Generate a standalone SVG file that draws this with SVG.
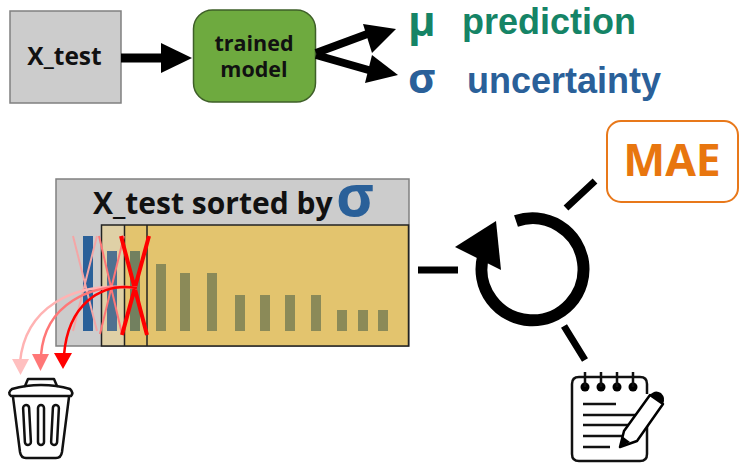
<svg xmlns="http://www.w3.org/2000/svg" width="749" height="470" viewBox="0 0 749 470">
<defs><style>
text{font-family:"Open Sans","Noto Sans",sans-serif;font-weight:700}
.blk{fill:#000;stroke:none}
.bar{fill:#2a6099}
.obar{fill:#8b8a58}
.ln{stroke:#000;fill:none}
</style></defs>
<rect width="749" height="470" fill="#fff"/>
<g id="x_test"><rect x="10" y="11" width="111" height="92" fill="#ccc" stroke="#808080" stroke-width="1.5"/><text x="64.500" y="65" font-size="24.500" text-anchor="middle" fill="#111">X_test</text></g>
<g id="trained_model"><rect x="193.500" y="10" width="122" height="92" rx="19" fill="#6eaa3f" stroke="#3e5f28" stroke-width="1.500"/><text x="254" y="51" font-size="21.500" text-anchor="middle" fill="#111">trained</text><text x="254" y="77" font-size="21.500" text-anchor="middle" fill="#111">model</text></g>
<g id="mu"><text x="408" y="36" font-size="42" fill="#158466" font-family="Liberation Sans">μ</text><text x="462" y="34" font-size="36" fill="#158466" style="font-family:'Liberation Sans';font-weight:700">prediction</text></g>
<g id="sigma"><text x="408" y="93" font-size="42" fill="#2a6099">σ</text><text x="467" y="93" font-size="36" fill="#2a6099" style="font-family:'Liberation Sans';font-weight:700">uncertainty</text></g>
<g id="sorted"><rect x="56" y="179" width="353" height="167" fill="#ccc" stroke="#808080" stroke-width="1.500"/>
<rect x="101.500" y="225" width="307" height="121" fill="#e3c46e"/>
<rect x="101.500" y="225" width="23" height="121" fill="#dfd0a6"/>
<path d="M101.500 225H408.500V346H101.500ZM124.500 225V346M147 225V346" fill="none" stroke="#222" stroke-width="1.500"/>
<text x="93" y="214" font-size="30" fill="#111">X_test sorted by</text>
<text x="336" y="216" font-size="58" fill="#2a6099">σ</text>
<rect class="bar" x="83" y="236" width="10" height="95"/>
<rect x="107" y="251" width="10" height="80" fill="#4f7190"/>
<rect x="130" y="251" width="10" height="80" fill="#72805f"/>
<rect class="obar" x="156" y="264" width="10" height="67"/><rect class="obar" x="180" y="273" width="10" height="58"/><rect class="obar" x="207" y="273" width="10" height="58"/>
<rect class="obar" x="235" y="295" width="10" height="36"/><rect class="obar" x="260" y="295" width="10" height="36"/><rect class="obar" x="285" y="295" width="10" height="36"/><rect class="obar" x="311" y="295" width="10" height="36"/>
<rect class="obar" x="337" y="310" width="10" height="21"/><rect class="obar" x="358" y="310" width="10" height="21"/><rect class="obar" x="378" y="310" width="10" height="21"/></g>
<g id="connectors" fill="none">
<path d="M121 58H165" stroke="#000" stroke-width="9"/><path class="blk" d="M161 43L192 58L161 73Z"/>
<path d="M316 53L370 33" stroke="#000" stroke-width="8"/><path class="blk" d="M363 24L396 29L372 53Z"/>
<path d="M316 55L372 71" stroke="#000" stroke-width="8"/><path class="blk" d="M372 55L398 75L365 83Z"/>
<g stroke="#f4a6a6" stroke-width="2"><path d="M73 236L97 331M97 236L73 331"/></g>
<g stroke="#f77" stroke-width="2"><path d="M99 236L122 334M124 236L100 334"/></g>
<g stroke="#f00" stroke-width="4"><path d="M122 236L148 335M150 236L123 335" transform="translate(-1,0)"/></g>
<path d="M137 288C70 280 25 310 20 362" stroke="#ffb3b3" stroke-width="2.500"/><path d="M137 288C90 282 45 305 41 355" stroke="#f77" stroke-width="2.500"/><path d="M137 288C100 282 68 305 64 355" stroke="#f00" stroke-width="2.500"/>
<path fill="#ffbfbf" d="M12 359H29L20.500 375Z"/><path fill="#f77" d="M32 354H49L40.500 371Z"/><path fill="#f00" d="M54 353H72L63 369Z"/>
<path d="M418 270H458" stroke="#000" stroke-width="7"/>
<path d="M566 208L595 181M564 326L585 360" stroke="#000" stroke-width="7"/>
<path d="M516 221A51 51 0 1 1 483 257" stroke="#000" stroke-width="12"/><path class="blk" d="M455 247L496 221L501 270Z"/>
</g>
<g id="mae"><rect x="607" y="121" width="131" height="81" rx="14" fill="#fff" stroke="#e8781a" stroke-width="2"/><text x="672" y="176" font-size="44.500" text-anchor="middle" fill="#e8760f">MAE</text></g>
<g id="trash" fill="none" stroke="#111" stroke-width="2.500" stroke-linecap="round" stroke-linejoin="round"><path d="M25 386L28 379H54L57 386"/><path d="M12 389Q26 385 41 385Q57 385 70 389Q74 393 71 396H11Q7 393 12 389Z"/><path d="M13 397L20 452Q21 458 26 458H56Q61 458 62 452L69 397"/><rect x="24" y="405" width="6" height="40" rx="3" transform="rotate(-3 27 425)"/><rect x="38" y="405" width="6" height="40" rx="3"/><rect x="52" y="405" width="6" height="40" rx="3" transform="rotate(3 55 425)"/></g>
<g id="notepad"><path d="M647 394V384Q647 377 640 377H579Q572 377 572 384V454Q572 461 579 461H640Q647 461 647 454V425" fill="none" stroke="#111" stroke-width="2.500"/>
<g fill="#000"><circle cx="585" cy="387" r="4.500"/><circle cx="601" cy="387" r="4.500"/><circle cx="617" cy="387" r="4.500"/><circle cx="633" cy="387" r="4.500"/></g>
<path d="M585 372V387M601 372V387M617 372V387M633 372V387M583 404H616M583 415H636M583 425H630M583 436H622M583 447H610" stroke="#111" stroke-width="2.500" fill="none"/>
<path d="M620 447L624 431L650 395L663 404L637 441Z" fill="#fff" stroke="#000" stroke-width="2.500" stroke-linejoin="round"/><path d="M650 395Q655 389 661 393Q666 398 663 404Z" fill="#000"/><path d="M620 447L622 436L630 442Z" fill="#000"/></g>
</svg>
